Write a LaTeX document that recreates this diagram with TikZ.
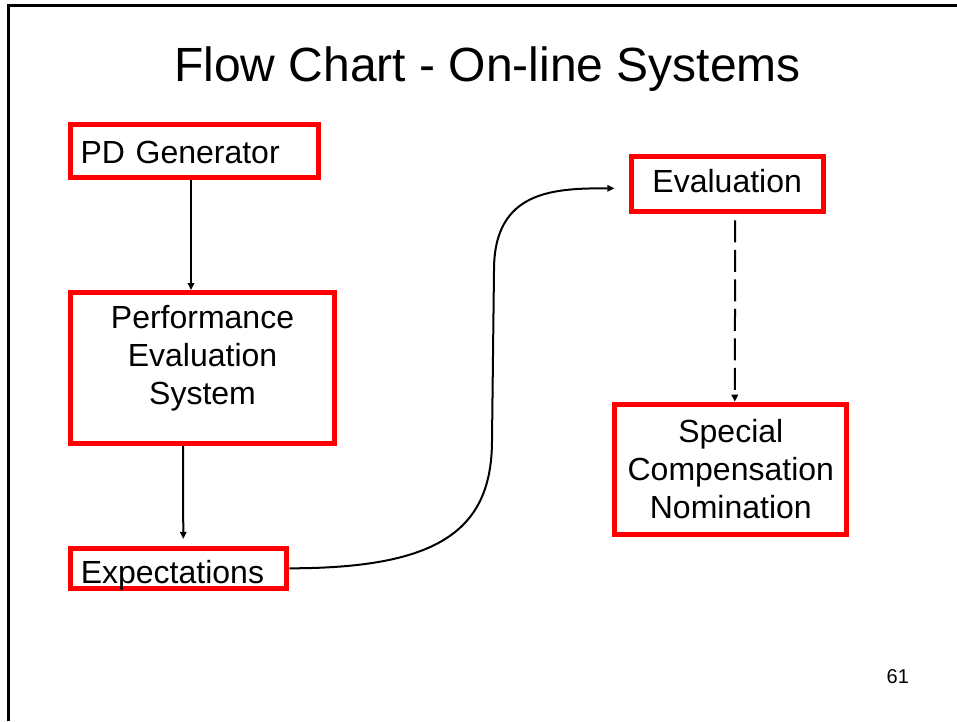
\documentclass[tikz,border=0pt]{standalone}
\usepackage{fontspec}
\setmainfont{Liberation Sans}
\usetikzlibrary{arrows.meta}

\begin{document}
\begin{tikzpicture}[x=1pt,y=-1pt,
    redbox/.style={draw=red, line width=5pt, inner sep=0pt, align=center,
        font=\fontsize{32}{37.7}\selectfont},
    flow/.style={line width=2pt, -{Triangle[length=7pt,width=6.5pt]}}]
        \useasboundingbox (0,0) rectangle (957,721);
        % slide frame
        \draw[line width=2.5pt] (8.3,721) -- (8.3,5.3) -- (957,5.3);
        \node[font=\fontsize{48}{58}\selectfont, anchor=base] (title) at (487.5,81.7) {Flow Chart - On-line Systems};

        % boxes
        \node[redbox, minimum width=248pt, minimum height=53.3pt, inner xsep=10pt, text width=228pt, align=left, text height=25pt, text depth=0pt] (pd) at (194.5,150.9) {PD Generator};
        \node[redbox, minimum width=263.5pt, minimum height=151pt, text height=98pt, text depth=26pt] (perf) at (202.5,368) {Performance\\Evaluation\\System};
        \node[redbox, minimum width=216pt, minimum height=40pt, inner xsep=10pt, text width=196pt, align=left, text height=30pt, text depth=0pt] (exp) at (178.8,568.3) {Expectations};
        \node[redbox, minimum width=192pt, minimum height=55.3pt, text height=23pt, text depth=7pt] (eval) at (727.2,184.2) {Evaluation};
        \node[redbox, minimum width=232pt, minimum height=130pt, text height=98pt, text depth=0pt] (spec) at (730.8,469.2) {Special\\Compensation\\Nomination};
        \coordinate (evalin) at (614.3,188.3);

        % connectors
        \draw[flow] ([xshift=-3.5pt]pd.south) -- ([xshift=-11.5pt]perf.north);
        \draw[flow] ([xshift=-19.5pt]perf.south) -- ([xshift=4.5pt,yshift=7pt]exp.north);
        \draw[flow] (exp.east) .. controls +(150,0) and +(0,90) .. (492,440) -- (494,270) .. controls +(0,-80) and +(-60,0) .. (evalin);
        \draw[flow, dash pattern=on 22pt off 7.5pt] ([xshift=8pt,yshift=-6pt]eval.south) -- ([xshift=4pt]spec.north);

        \node[font=\fontsize{20}{24}\selectfont, anchor=base] (page) at (897.8,683.3) {61};
    \end{tikzpicture}
\end{document}
